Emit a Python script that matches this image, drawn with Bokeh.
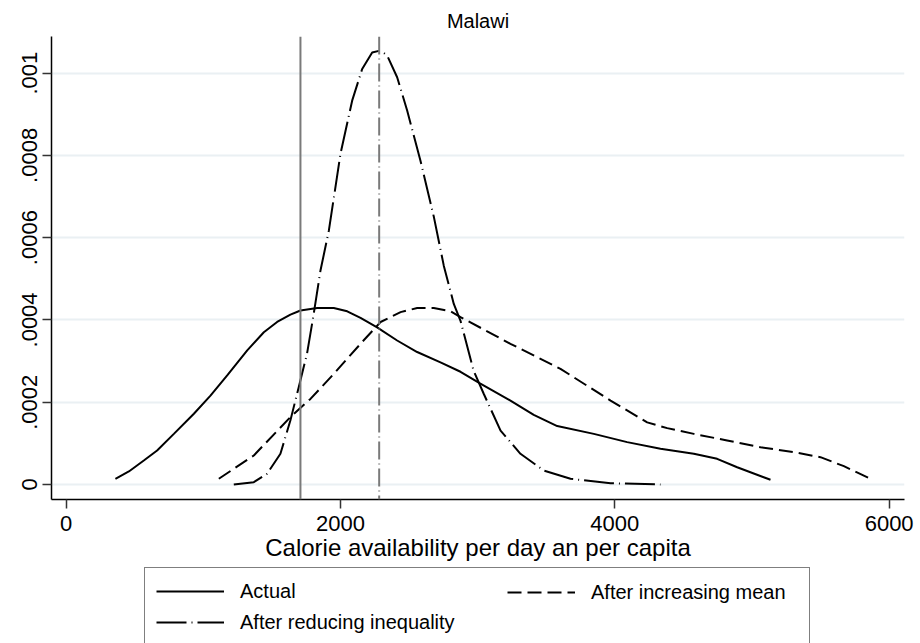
import numpy as np
from bokeh.plotting import figure
from bokeh.layouts import column
from bokeh.models import Span, Legend, LegendItem, FixedTicker, Range1d
from bokeh.embed import file_html
from bokeh.resources import INLINE

# ---------------- data ----------------
title_text = "Malawi"
x_label = "Calorie availability per day an per capita"
x_ticks = [0, 2000, 4000, 6000]
y_ticks = [0, 0.0002, 0.0004, 0.0006, 0.0008, 0.001]
y_tick_labels = ["0", ".0002", ".0004", ".0006", ".0008", ".001"]
series_names = ["Actual", "After increasing mean", "After reducing inequality"]

actual_x = [359, 457, 566, 663, 785, 931, 1052, 1174, 1320, 1441, 1538, 1635,
            1708, 1830, 1951, 2049, 2146, 2267, 2413, 2559, 2729, 2875, 3020,
            3239, 3409, 3580, 3847, 4090, 4333, 4576, 4746, 4892, 5135]
actual_y = [0.0000139, 0.0000316, 0.0000583, 0.0000827, 0.000123, 0.000172,
            0.000216, 0.000265, 0.000326, 0.000370, 0.000395, 0.000413,
            0.000423, 0.000429, 0.000429, 0.000421, 0.000405, 0.000382,
            0.000350, 0.000322, 0.000297, 0.000274, 0.000245, 0.000204,
            0.000169, 0.000142, 0.000123, 0.000103, 0.0000867, 0.0000746,
            0.0000624, 0.0000420, 0.0000114]

mean_x = [1113, 1368, 1635, 1781, 1951, 2146, 2292, 2438, 2559, 2680, 2802,
          2875, 3239, 3604, 3969, 4236, 4382, 4576, 4819, 5062, 5305, 5499,
          5670, 5864]
mean_y = [0.0000139, 0.0000705, 0.000164, 0.000208, 0.000269, 0.000342,
          0.000395, 0.000419, 0.000429, 0.000429, 0.000421, 0.000407,
          0.000342, 0.000281, 0.000204, 0.000151, 0.000137, 0.000123,
          0.000107, 0.0000907, 0.0000785, 0.0000664, 0.0000445, 0.0000139]

ineq_x = [1222, 1368, 1464, 1562, 1635, 1695, 1756, 1805, 1854, 1915, 2000,
          2085, 2158, 2231, 2292, 2340, 2413, 2486, 2583, 2681, 2753, 2826,
          2875, 2970, 3045, 3167, 3312, 3482, 3677, 3969, 4333]
ineq_y = [0.0, 0.0000057, 0.000026, 0.0000746, 0.000156, 0.000236, 0.000318,
          0.000415, 0.000520, 0.000617, 0.000804, 0.000933, 0.00101, 0.00105,
          0.001055, 0.001043, 0.00099, 0.000909, 0.000787, 0.00065, 0.000532,
          0.000439, 0.000398, 0.000277, 0.00022, 0.000131, 0.0000746,
          0.000034, 0.0000138, 0.0000032, 0.0]

actual_mean_line = 1708
reduced_mean_line = 2282

FONT = "Liberation Sans"
styles = {"Actual": None, "After increasing mean": "14 6",
          "After reducing inequality": "30 5 1 5"}

# ---------------- main figure ----------------
p = figure(width=920, height=567, output_backend="svg", toolbar_location=None,
           x_range=Range1d(-107, 6112), y_range=Range1d(-0.0000365, 0.001089),
           min_border_left=51, min_border_right=16, min_border_top=36,
           min_border_bottom=68, title=title_text)
p.outline_line_color = None
p.background_fill_color = "white"
p.border_fill_color = "white"

p.title.align = "center"
p.title.text_font = FONT
p.title.text_font_size = "20px"
p.title.text_font_style = "normal"
p.title.text_color = "black"
p.title.standoff = 9

p.xgrid.visible = False
p.ygrid.grid_line_color = "#eaf0f3"
p.ygrid.grid_line_width = 2

p.xaxis.ticker = FixedTicker(ticks=x_ticks)
p.yaxis.ticker = FixedTicker(ticks=y_ticks)
p.yaxis.major_label_overrides = {v: s for v, s in zip(y_ticks, y_tick_labels)}
p.xaxis.major_label_overrides = {v: str(v) for v in x_ticks}
p.yaxis.major_label_orientation = "vertical"
p.xaxis.axis_label = x_label

for ax in (p.xaxis, p.yaxis):
    ax.axis_line_color = "black"
    ax.axis_line_width = 1.5
    ax.major_tick_line_color = "#333333"
    ax.major_tick_line_width = 1.5
    ax.major_tick_out = 9
    ax.major_tick_in = 0
    ax.minor_tick_line_color = None
    ax.major_label_text_font = FONT
    ax.major_label_text_font_size = "22px"
    ax.major_label_text_color = "black"
    ax.axis_label_text_font = FONT
    ax.axis_label_text_font_size = "24px"
    ax.axis_label_text_font_style = "normal"
    ax.axis_label_text_color = "black"
p.xaxis.major_label_standoff = 7
p.xaxis.axis_label_standoff = 0
p.yaxis.major_label_standoff = 5

p.line(actual_x, actual_y, line_color="black", line_width=2)
p.line(mean_x, mean_y, line_color="black", line_width=2,
       line_dash=styles["After increasing mean"])
p.line(ineq_x, ineq_y, line_color="black", line_width=2,
       line_dash=styles["After reducing inequality"])

p.add_layout(Span(location=actual_mean_line, dimension="height",
                  line_color="#7a7a7a", line_width=2))
p.add_layout(Span(location=reduced_mean_line, dimension="height",
                  line_color="#7a7a7a", line_width=2, line_dash="18 4 1 4"))

# ---------------- legend strip ----------------
lg = figure(width=920, height=76, output_backend="svg", toolbar_location=None,
            x_range=Range1d(0, 1), y_range=Range1d(0, 1),
            x_axis_location=None, y_axis_location=None,
            min_border=0, min_border_left=0, min_border_right=0,
            min_border_top=0, min_border_bottom=0)
lg.outline_line_color = None
lg.xgrid.visible = False
lg.ygrid.visible = False
lg.background_fill_color = "white"
lg.border_fill_color = "white"

# legend keys only (a single undefined point, nothing drawn in the strip)
key = {}
for name in series_names:
    kw = dict(line_color="black", line_width=2)
    if styles[name]:
        kw["line_dash"] = styles[name]
    key[name] = lg.line(np.array([np.nan]), np.array([np.nan]), **kw)

common = dict(spacing=7, margin=0, glyph_height=24, label_height=24,
              glyph_width=68, label_standoff=16,
              label_text_font=FONT, label_text_font_size="20px",
              label_text_color="black", orientation="vertical")
leg1 = Legend(items=[LegendItem(label=series_names[0], renderers=[key[series_names[0]]]),
                     LegendItem(label=series_names[2], renderers=[key[series_names[2]]])],
              location=(93, -3), padding=11, label_width=558,
              border_line_color="black", border_line_width=1.5,
              background_fill_color="white", background_fill_alpha=1.0, **common)
leg2 = Legend(items=[LegendItem(label=series_names[1], renderers=[key[series_names[1]]])],
              location=(456, 39), padding=0,
              border_line_color=None, background_fill_alpha=0.0, **common)
lg.add_layout(leg1, "center")
lg.add_layout(leg2, "center")

layout = column(p, lg, spacing=0)
open("out.html", "w").write(file_html(layout, INLINE))
